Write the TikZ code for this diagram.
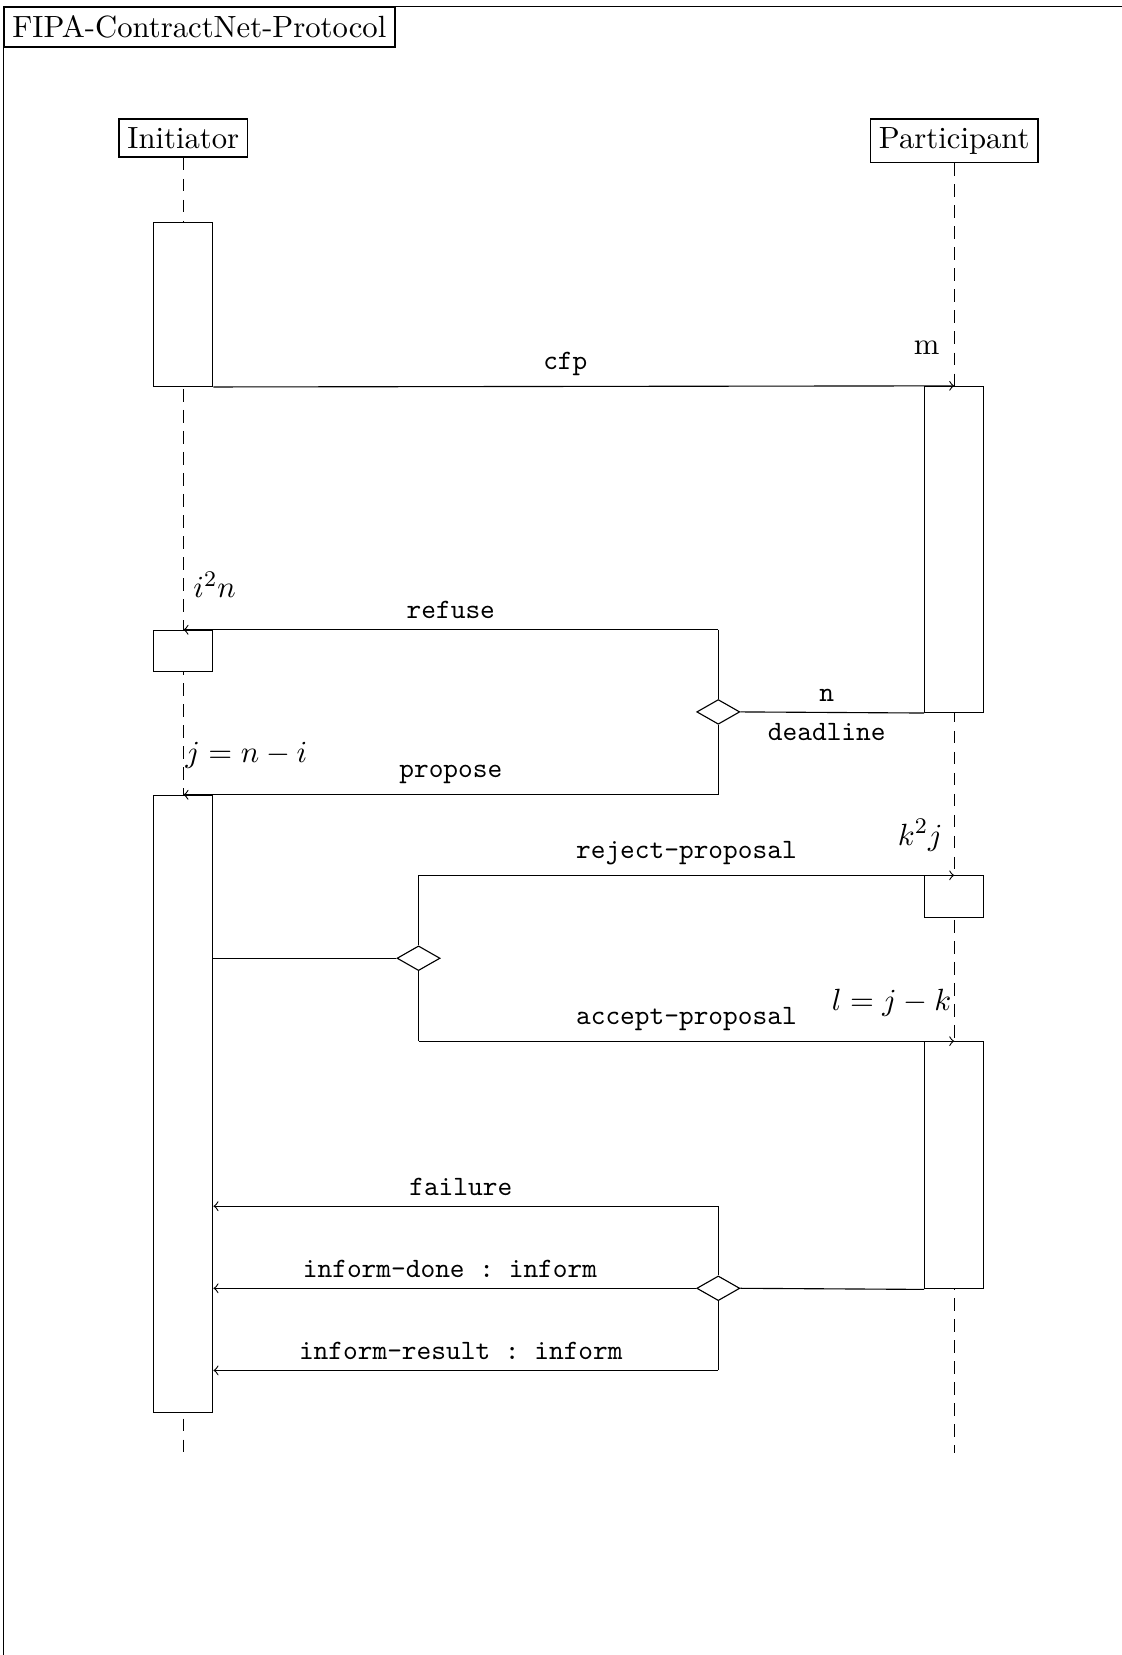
\documentclass[tikz,border=0pt,11pt]{standalone}
\usetikzlibrary{shapes.geometric}

\tikzset{
  headbox/.style={draw, semithick, anchor=north, inner sep=3pt},
  act/.style={draw, fill=white, anchor=north, minimum width=0.74cm, inner sep=0pt},
  lifeline/.style={dash pattern=on 4.5pt off 3pt},
  msg/.style={->},
  msglabel/.style={font=\small\ttfamily},
  choice/.style={draw, diamond, fill=white, inner sep=0pt, aspect=1.7,
                 minimum width=0.54cm, minimum height=0.31cm},
}

\begin{document}
\frenchspacing
\begin{tikzpicture}
  \useasboundingbox (0,0) rectangle (14.07,-20.76);

  \def\xI{2.30}   % Initiator lifeline
  \def\xP{11.97}  % Participant lifeline
  \def\xL{5.25}   % choice on the left
  \def\xR{9.01}   % choices on the right

  % Frame
  \coordinate (F) at (0.04,-0.08);
  \draw (14.3,-0.08) -- (F) -- (0.04,-21.0);
  \node[draw, semithick, anchor=north west, inner sep=3pt] (title) at (F) {FIPA-ContractNet-Protocol};

  % Heads and lifelines
  \node[headbox] (init) at (\xI,-1.48) {Initiator};
  \node[headbox] (part) at (\xP,-1.48) {Participant};
  \coordinate (initEnd) at (\xI,-18.23);
  \coordinate (partEnd) at (\xP,-18.23);
  \draw[lifeline] (init) -- (initEnd);
  \draw[lifeline] (part) -- (partEnd);

  % Activations
  \node[act, minimum height=2.06cm] (initA1) at (\xI,-2.78) {};
  \node[act, minimum height=0.52cm] (initA2) at (\xI,-7.90) {};
  \node[act, minimum height=7.74cm] (initA3) at (\xI,-9.97) {};
  \node[act, minimum height=4.09cm] (partA1) at (\xP,-4.84) {};
  \node[act, minimum height=0.52cm] (partA2) at (\xP,-10.98) {};
  \node[act, minimum height=3.10cm] (partA3) at (\xP,-13.06) {};

  % Choices
  \node[choice] (d1) at (\xR,-8.93) {};
  \node[choice] (d2) at (\xL,-12.02) {};
  \node[choice] (d3) at (\xR,-16.16) {};
  \coordinate (refuse)  at (\xR,-7.90);
  \coordinate (propose) at (\xR,-9.97);
  \coordinate (reject)  at (\xL,-10.98);
  \coordinate (accept)  at (\xL,-13.06);
  \coordinate (failure) at (\xR,-15.13);
  \coordinate (result)  at (\xR,-17.19);

  % Call for proposals
  \draw[msg] (initA1.south east) -- node[msglabel, above, pos=0.475] {cfp} (partA1.north);
  \node[anchor=base east, inner sep=0pt] (m) at (11.79,-4.45) {m};

  % Refuse or propose
  \draw (d1.east) -- node[msglabel, above, pos=0.47] {n}
                     node[msglabel, below, pos=0.47] {deadline} (partA1.south west);
  \draw (d1.north) -- (refuse);
  \draw (d1.south) -- (propose);
  \draw[msg] (refuse) -- node[msglabel, above] {refuse} (initA2.north);
  \draw[msg] (propose) -- node[msglabel, above] {propose} (initA3.north);
  \node[anchor=base west, inner sep=0pt] (i2n) at (2.42,-7.50) {$i^2n$};
  \node[anchor=base west, inner sep=0pt] (jni) at (2.32,-9.56) {$j=n-i$};

  % Reject or accept
  \draw (initA3.east |- d2) -- (d2.west);
  \draw (d2.north) -- (reject);
  \draw (d2.south) -- (accept);
  \draw[msg] (reject) -- node[msglabel, above] {reject-proposal} (partA2.north);
  \draw[msg] (accept) -- node[msglabel, above] {accept-proposal} (partA3.north);
  \node[anchor=base east, inner sep=0pt] (k2j) at (11.83,-10.60) {$k^2j$};
  \node[anchor=base east, inner sep=0pt] (ljk) at (11.94,-12.67) {$l=j-k$};

  % Outcome
  \draw (d3.east) -- (partA3.south west);
  \draw (d3.north) -- (failure);
  \draw (d3.south) -- (result);
  \draw[msg] (failure) -- node[msglabel, above, pos=0.51] {failure} (initA3.east |- failure);
  \draw[msg] (d3.west) -- node[msglabel, above, pos=0.51] {inform-done : inform} (initA3.east |- d3);
  \draw[msg] (result) -- node[msglabel, above, pos=0.51] {inform-result : inform} (initA3.east |- result);

\end{tikzpicture}
\end{document}
